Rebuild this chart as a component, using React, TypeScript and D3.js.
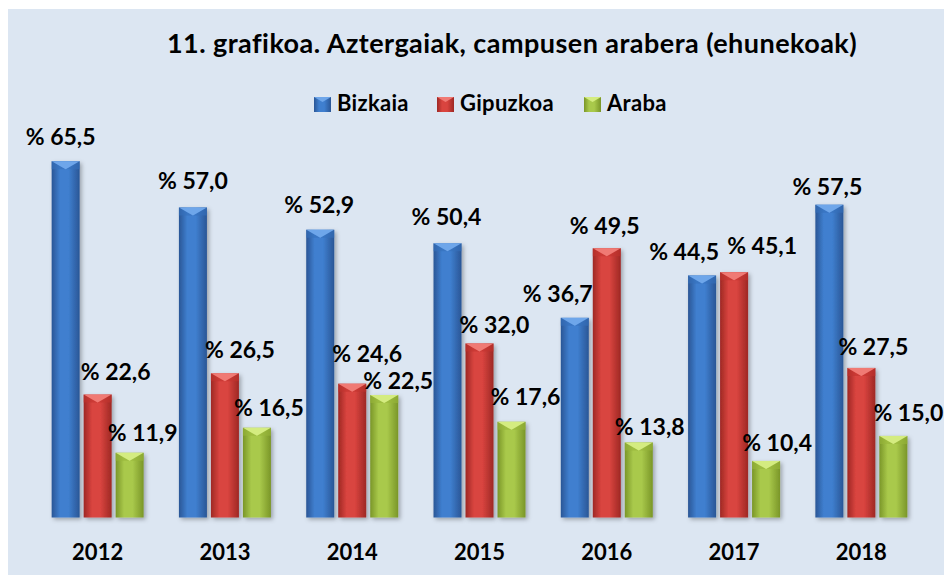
import React, { useEffect, useRef } from 'react';
import * as d3 from 'd3';

// chart data
const years = ['2012', '2013', '2014', '2015', '2016', '2017', '2018'];
const seriesNames = ['Bizkaia', 'Gipuzkoa', 'Araba'];
const bizkaia = [65.5, 57.0, 52.9, 50.4, 36.7, 44.5, 57.5];
const gipuzkoa = [22.6, 26.5, 24.6, 32.0, 49.5, 45.1, 27.5];
const araba = [11.9, 16.5, 22.5, 17.6, 13.8, 10.4, 15.0];
const title = '11. grafikoa. Aztergaiak, campusen arabera (ehunekoak)';

// label nudges (dx from bar centre, dy from bar top) as placed in the original
const labelDx = [
  [-5, 0, -1, -1, -17, -18, -2],
  [18, 15, 15, 15, -2, 28, 12],
  [13, 12, 14, 14, 11, 11, 15],
];
const labelDy = [
  [-16, -18, -17, -18, -16, -15, -10],
  [-15, -15, -22, -10, -14, -18, -13],
  [-12, -12, -6, -17, -7, -10, -15],
];

const palettes = [
  { edge: '#2a5696', mid: '#3f7fcf', top: '#6ea6ea', side: '#3670bb' },
  { edge: '#9e2824', mid: '#d9443f', top: '#f07a74', side: '#c2342f' },
  { edge: '#7a9628', mid: '#a9c94b', top: '#d4ec80', side: '#97b63a' },
];

const fmt = (v: number) => '% ' + v.toFixed(1).replace('.', ',');

const App = () => {
  const ref = useRef<SVGSVGElement | null>(null);

  useEffect(() => {
    if (!ref.current) return;
    const W = 944;
    const H = 575;
    const font = 'Lato, "Open Sans", sans-serif';
    const svg = d3.select(ref.current);
    svg.selectAll('*').remove();

    const defs = svg.append('defs');
    palettes.forEach((p, i) => {
      const g = defs.append('linearGradient').attr('id', `bar${i}`)
        .attr('x1', '0%').attr('x2', '100%').attr('y1', '0%').attr('y2', '0%');
      g.append('stop').attr('offset', '0%').attr('stop-color', p.edge);
      g.append('stop').attr('offset', '30%').attr('stop-color', p.mid);
      g.append('stop').attr('offset', '60%').attr('stop-color', p.mid);
      g.append('stop').attr('offset', '100%').attr('stop-color', p.edge);
    });
    const sh = defs.append('filter').attr('id', 'shadow')
      .attr('x', '-30%').attr('y', '-10%').attr('width', '160%').attr('height', '120%');
    sh.append('feDropShadow').attr('dx', 2).attr('dy', 2).attr('stdDeviation', 2)
      .attr('flood-color', '#000').attr('flood-opacity', 0.3);

    // background
    svg.append('rect').attr('x', 8).attr('y', 9).attr('width', W - 8).attr('height', H - 9)
      .attr('fill', '#dce6f2');

    svg.append('text').attr('x', 512).attr('y', 53).attr('text-anchor', 'middle')
      .attr('font-family', font).attr('font-weight', 700).attr('font-size', 27)
      .attr('letter-spacing', 0.45).attr('fill', '#000').text(title);

    const allValues = [bizkaia, gipuzkoa, araba];

    const x0 = d3.scaleBand<string>().domain(years).range([34, 925])
      .paddingInner(0.2773).paddingOuter(0.1387);
    const x1 = d3.scaleBand<string>().domain(seriesNames).range([0, x0.bandwidth()])
      .paddingInner(0.125);
    const y = d3.scaleLinear().domain([0, 70]).range([517.5, 517.5 - 70 * 5.44]);

    // axis line
    svg.append('line').attr('x1', 34).attr('x2', 925).attr('y1', 518.5).attr('y2', 518.5)
      .attr('stroke', '#9a9a9a').attr('stroke-width', 2).attr('filter', 'url(#shadow)');

    const bw = x1.bandwidth();
    allValues.forEach((vals, si) => {
      const p = palettes[si];
      const g = svg.append('g');
      const bars = g.selectAll('g.bar').data(vals).enter().append('g')
        .attr('transform', (_, i) => `translate(${(x0(years[i]) ?? 0) + (x1(seriesNames[si]) ?? 0)},0)`);
      bars.append('rect').attr('x', 0).attr('width', bw)
        .attr('y', d => y(d)).attr('height', d => y(0) - y(d))
        .attr('fill', `url(#bar${si})`).attr('filter', 'url(#shadow)');
      // bevel on top
      const bh = 8;
      bars.append('path')
        .attr('d', d => `M0,${y(d)} L${bw / 2},${y(d) + bh} L0,${y(d) + bh} Z M${bw},${y(d)} L${bw / 2},${y(d) + bh} L${bw},${y(d) + bh} Z`)
        .attr('fill', p.side).attr('opacity', 0.6);
      bars.append('path')
        .attr('d', d => `M0,${y(d)} L${bw},${y(d)} L${bw / 2},${y(d) + bh} Z`)
        .attr('fill', p.top);
    });

    // data labels
    allValues.forEach((vals, si) => {
      svg.append('g').selectAll('text').data(vals).enter().append('text')
        .attr('x', (_, i) => (x0(years[i]) ?? 0) + (x1(seriesNames[si]) ?? 0) + bw / 2 + labelDx[si][i])
        .attr('y', (d, i) => y(d) + labelDy[si][i])
        .attr('text-anchor', 'middle')
        .attr('font-family', font).attr('font-weight', 700).attr('font-size', 23)
        .attr('fill', '#000').text(d => fmt(d));
    });

    // year labels
    svg.append('g').selectAll('text').data(years).enter().append('text')
      .attr('x', d => (x0(d) ?? 0) + x0.bandwidth() / 2)
      .attr('y', 560).attr('text-anchor', 'middle')
      .attr('font-family', font).attr('font-weight', 700).attr('font-size', 22)
      .attr('fill', '#000').text(d => d);

    // legend
    const legX = [314, 437, 584];
    const leg = svg.append('g');
    seriesNames.forEach((name, si) => {
      const p = palettes[si];
      const lg = leg.append('g').attr('transform', `translate(${legX[si]},97)`);
      lg.append('rect').attr('width', 17).attr('height', 15).attr('fill', `url(#bar${si})`);
      lg.append('path').attr('d', 'M0,0 L17,0 L8.5,5 Z').attr('fill', p.top);
      lg.append('text').attr('x', 23).attr('y', 14).attr('font-family', font)
        .attr('font-weight', 700).attr('font-size', 22).attr('letter-spacing', 0.3)
        .attr('fill', '#000').text(name);
    });
  }, []);

  return (
    <div>
      <svg ref={ref} width={944} height={575}
        style={{ position: 'absolute', left: 0, top: 0, background: '#fff' }} />
    </div>
  );
};

export default App;
